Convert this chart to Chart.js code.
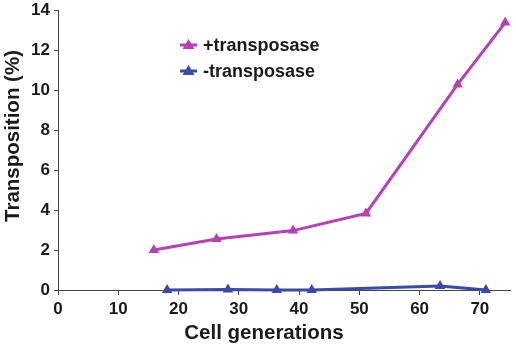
<!DOCTYPE html>
<html>
<head>
<meta charset="utf-8">
<script src="https://cdn.jsdelivr.net/npm/chart.js@4"></script>
<style>
  html, body { margin: 0; padding: 0; background: #fff; }
  #wrap { width: 516px; height: 346px; position: relative; }
</style>
</head>
<body>
<div id="wrap"><canvas id="chart"></canvas></div>
<script>
const plusGen = [15.9, 26.3, 39.0, 51.1, 66.3, 74.2];
const plusVals = [2.0, 2.55, 2.97, 3.83, 10.28, 13.37];
const minusGen = [18.1, 28.2, 36.3, 42.1, 63.4, 71.0];
const minusVals = [0, 0.03, 0, 0, 0.2, 0];
const seriesNames = ["+transposase", "-transposase"];
const xTitle = "Cell generations";
const yTitle = "Transposition (%)";

const magenta = "#B640B6";
const blue = "#3A49AA";
const ink = "#1a1a1a";
const font = "'Liberation Sans', Arial, sans-serif";

const toPoints = (xs, ys) => xs.map((x, i) => ({ x: x, y: ys[i] }));

// legend inside the plot plus the two axis titles (placed like the original)
const extras = {
  id: 'extras',
  afterDraw(chart) {
    const ctx = chart.ctx;
    const rows = [45, 71];
    chart.data.datasets.forEach((ds, i) => {
      const y = rows[i];
      ctx.save();
      ctx.strokeStyle = ds.borderColor;
      ctx.lineWidth = 3;
      ctx.beginPath();
      ctx.moveTo(180, y);
      ctx.lineTo(197, y);
      ctx.stroke();
      ctx.fillStyle = ds.borderColor;
      ctx.beginPath();
      ctx.moveTo(188.5, y - 6);
      ctx.lineTo(194.5, y + 4);
      ctx.lineTo(182.5, y + 4);
      ctx.closePath();
      ctx.fill();
      ctx.fillStyle = ink;
      ctx.font = "bold 18px " + font;
      ctx.textBaseline = "middle";
      ctx.fillText(ds.label, 203, y + 1);
      ctx.restore();
    });

    ctx.save();
    ctx.fillStyle = ink;
    ctx.font = "bold 20.5px " + font;
    ctx.textAlign = "center";
    ctx.textBaseline = "middle";
    ctx.fillText(xTitle, 264, 333);
    ctx.translate(13, 136);
    ctx.rotate(-Math.PI / 2);
    ctx.fillText(yTitle, 0, 0);
    ctx.restore();
  }
};

new Chart(document.getElementById('chart'), {
  type: 'line',
  data: {
    datasets: [
      {
        label: seriesNames[0],
        data: toPoints(plusGen, plusVals),
        borderColor: magenta,
        backgroundColor: magenta,
        borderWidth: 3,
        pointStyle: 'triangle',
        pointRadius: 6,
        pointBorderWidth: 0,
        tension: 0,
        clip: false
      },
      {
        label: seriesNames[1],
        data: toPoints(minusGen, minusVals),
        borderColor: blue,
        backgroundColor: blue,
        borderWidth: 3,
        pointStyle: 'triangle',
        pointRadius: 6,
        pointBorderWidth: 0,
        tension: 0,
        clip: false
      }
    ]
  },
  options: {
    responsive: true,
    maintainAspectRatio: false,
    animation: false,
    layout: { padding: { top: 10, right: 2, left: 0, bottom: 0 } },
    scales: {
      x: {
        type: 'linear',
        min: 0,
        max: 75,
        grid: { drawOnChartArea: false, drawTicks: true, tickLength: 5, color: '#444' },
        border: { color: '#444', width: 1 },
        ticks: {
          stepSize: 10,
          includeBounds: false,
          color: ink,
          padding: 4,
          font: { family: font, size: 17, weight: 'bold' }
        },
        afterFit: s => { s.height = 56; s.paddingRight = 0; }
      },
      y: {
        min: 0,
        max: 14,
        grid: { drawOnChartArea: false, drawTicks: true, tickLength: 4, color: '#444' },
        border: { color: '#444', width: 1 },
        ticks: {
          stepSize: 2,
          color: ink,
          padding: 4,
          font: { family: font, size: 17, weight: 'bold' }
        },
        afterFit: s => { s.width = 58; s.paddingTop = 0; s.paddingBottom = 0; }
      }
    },
    plugins: {
      legend: { display: false },
      tooltip: { enabled: false }
    }
  },
  plugins: [extras]
});
</script>
</body>
</html>
